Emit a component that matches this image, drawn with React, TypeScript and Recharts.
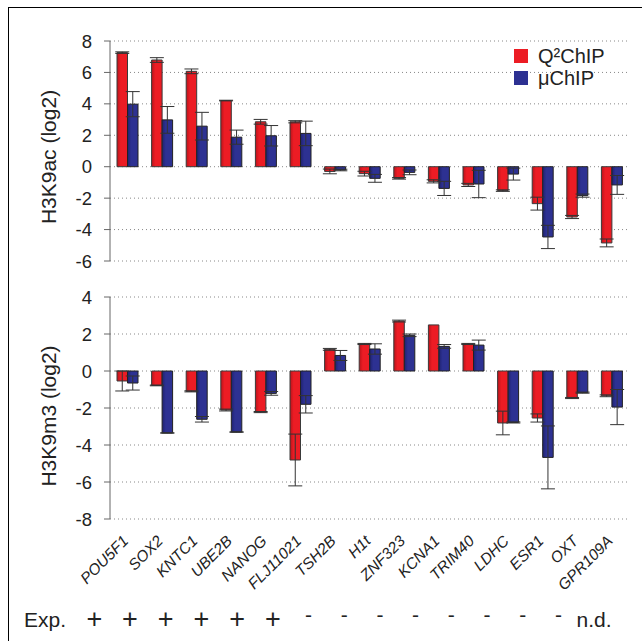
import { BarChart, Bar, XAxis, YAxis, CartesianGrid, ErrorBar, Legend, Label } from "recharts"

const genes = ["POU5F1", "SOX2", "KNTC1", "UBE2B", "NANOG", "FLJ11021", "TSH2B", "H1t", "ZNF323", "KCNA1", "TRIM40", "LDHC", "ESR1", "OXT", "GPR109A"]
const expression = ["+", "+", "+", "+", "+", "+", "-", "-", "-", "-", "-", "-", "-", "-", "n.d."]

// H3K9ac (log2)
const acQ2 = [7.26, 6.79, 6.07, 4.21, 2.86, 2.86, -0.3, -0.44, -0.74, -0.93, -1.16, -1.52, -2.35, -3.2, -4.85]
const acQ2Err = [0.05, 0.15, 0.15, 0.02, 0.15, 0.07, 0.15, 0.15, 0.05, 0.1, 0.1, 0.05, 0.41, 0.1, 0.25]
const acMu = [3.98, 2.98, 2.58, 1.88, 1.97, 2.12, -0.21, -0.74, -0.36, -1.38, -1.1, -0.47, -4.47, -1.84, -1.16]
const acMuErr = [0.8, 0.85, 0.88, 0.45, 0.65, 0.78, 0.05, 0.25, 0.15, 0.45, 0.87, 0.38, 0.74, 0.1, 0.6]

// H3K9m3 (log2)
const meQ2 = [-0.54, -0.78, -1.1, -2.11, -2.22, -4.81, 1.17, 1.46, 2.7, 2.49, 1.46, -2.81, -2.54, -1.46, -1.34]
const meQ2Err = [0.54, 0.02, 0.03, 0.05, 0.03, 1.4, 0.05, 0.03, 0.05, 0, 0.03, 0.64, 0.22, 0.03, 0.05]
const meMu = [-0.65, -3.35, -2.61, -3.3, -1.21, -1.8, 0.84, 1.19, 1.93, 1.33, 1.4, -2.78, -4.67, -1.17, -1.95]
const meMuErr = [0.38, 0.01, 0.15, 0.01, 0.1, 0.47, 0.27, 0.28, 0.07, 0.1, 0.27, 0.03, 1.7, 0.03, 0.95]

const acTicks = [-6, -4, -2, 0, 2, 4, 6, 8]
const meTicks = [-8, -6, -4, -2, 0, 2, 4]

const acData = genes.map((gene, i) => ({ gene, q2: acQ2[i], q2Err: acQ2Err[i], mu: acMu[i], muErr: acMuErr[i] }))
const meData = genes.map((gene, i) => ({ gene, q2: meQ2[i], q2Err: meQ2Err[i], mu: meMu[i], muErr: meMuErr[i] }))

const FONT = '"Liberation Sans", Arial, Helvetica, sans-serif'
const RED = "#ec1c24"
const BLUE = "#2d3192"
const AXIS = "#666"

const yLabel = (text: string, shift: number) => (props: any) => {
  const vb = props.viewBox
  const cx = 56
  const cy = vb.y + vb.height / 2 + shift
  return (
    <text x={cx} y={cy} transform={`rotate(-90, ${cx}, ${cy})`} textAnchor="middle" fontSize={21} fill="#222" fontFamily={FONT}>
      {text}
    </text>
  )
}

const GeneTick = (props: any) => {
  const { x, y, payload } = props
  const tx = x + 2
  const ty = y + 15
  return (
    <text x={tx} y={ty} transform={`rotate(-45, ${tx}, ${ty})`} textAnchor="end" fontSize={15.5} fontStyle="italic" fill="#222" fontFamily={FONT}>
      {payload.value}
    </text>
  )
}

const ExpTick = (props: any) => {
  const { x, y, index } = props
  const s = expression[index]
  const tx = x - 33 + index * 1.1
  if (s === "+") {
    return (
      <text x={tx} y={y + 16} textAnchor="middle" fontSize={27} fill="#222" fontFamily={FONT}>
        {s}
      </text>
    )
  }
  return (
    <text x={tx} y={y + 15 + (s === "-" ? -5 : 0)} textAnchor="middle" fontSize={21} fill="#222" fontFamily={FONT}>
      {s}
    </text>
  )
}

const ExpLabel = (props: any) => {
  const vb = props.viewBox
  return (
    <text x={24} y={vb.y + 23} fontSize={21} fill="#222" fontFamily={FONT}>
      Exp.
    </text>
  )
}

const LegendBox = () => (
  <div style={{ fontFamily: FONT, fontSize: 20, color: "#222", lineHeight: "22px" }}>
    <div style={{ display: "flex", alignItems: "center" }}>
      <span style={{ width: 14, height: 14, background: RED, display: "inline-block", marginRight: 10 }} />
      Q²ChIP
    </div>
    <div style={{ display: "flex", alignItems: "center" }}>
      <span style={{ width: 14, height: 14, background: BLUE, display: "inline-block", marginRight: 10 }} />
      μChIP
    </div>
  </div>
)

const Grads = ({ id }: { id: string }) => (
  <defs>
    <linearGradient id={`red${id}`} x1="0" y1="0" x2="1" y2="0">
      <stop offset="0%" stopColor="#b8141b" />
      <stop offset="35%" stopColor={RED} />
      <stop offset="100%" stopColor={RED} />
    </linearGradient>
    <linearGradient id={`blue${id}`} x1="0" y1="0" x2="1" y2="0">
      <stop offset="0%" stopColor="#1f2270" />
      <stop offset="35%" stopColor={BLUE} />
      <stop offset="100%" stopColor={BLUE} />
    </linearGradient>
  </defs>
)

export default function App() {
  return (
    <div style={{ position: "absolute", left: 0, top: 0, width: 642, height: 641, overflow: "hidden", background: "#fff" }}>
      <div style={{ position: "absolute", left: 8, top: 7, width: 700, height: 700, borderLeft: "1.5px solid #000", borderTop: "1.5px solid #000" }} />
      <div style={{ position: "absolute", left: 0, top: 0 }}>
        <BarChart width={642} height={285} data={acData} margin={{ top: 41, right: 13, left: 50, bottom: 24 }} barGap={0} barSize={10.5}>
          <Grads id="A" />
          <CartesianGrid vertical={false} stroke="#888" strokeDasharray="1 3" />
          <XAxis dataKey="gene" hide />
          <YAxis
            width={60}
            domain={[-6, 8]}
            ticks={acTicks}
            interval={0}
            stroke={AXIS}
            tickSize={6}
            tickMargin={12}
            tick={{ fontSize: 18.5, fill: "#222", fontFamily: FONT }}
          >
            <Label content={yLabel("H3K9ac (log2)", 6)} />
          </YAxis>
          <Legend layout="vertical" align="center" verticalAlign="middle" content={LegendBox} wrapperStyle={{ top: 45, left: 514, width: 120 }} />
          <Bar dataKey="q2" name="Q²ChIP" fill="url(#redA)" stroke="#3a3a3a" strokeWidth={1} isAnimationActive={false}>
            <ErrorBar dataKey="q2Err" width={7} stroke="#333" strokeWidth={1} isAnimationActive={false} />
          </Bar>
          <Bar dataKey="mu" name="μChIP" fill="url(#blueA)" stroke="#222" strokeWidth={1} isAnimationActive={false}>
            <ErrorBar dataKey="muErr" width={7} stroke="#333" strokeWidth={1} isAnimationActive={false} />
          </Bar>
        </BarChart>
      </div>
      <div style={{ position: "absolute", left: 0, top: 270 }}>
        <BarChart width={642} height={364} data={meData} margin={{ top: 27, right: 13, left: 50, bottom: 0 }} barGap={0} barSize={10.5}>
          <Grads id="B" />
          <CartesianGrid vertical={false} stroke="#888" strokeDasharray="1 3" />
          <XAxis dataKey="gene" height={85} axisLine={false} tickLine={false} interval={0} tick={<GeneTick />} />
          <XAxis dataKey="gene" xAxisId="exp" height={30} axisLine={false} tickLine={false} interval={0} tick={<ExpTick />}>
            <Label content={ExpLabel} />
          </XAxis>
          <YAxis
            width={60}
            domain={[-8, 4]}
            ticks={meTicks}
            interval={0}
            stroke={AXIS}
            tickSize={6}
            tickMargin={12}
            tick={{ fontSize: 18.5, fill: "#222", fontFamily: FONT }}
          >
            <Label content={yLabel("H3K9m3 (log2)", 8)} />
          </YAxis>
          <Bar dataKey="q2" fill="url(#redB)" stroke="#3a3a3a" strokeWidth={1} isAnimationActive={false}>
            <ErrorBar dataKey="q2Err" width={7} stroke="#333" strokeWidth={1} isAnimationActive={false} />
          </Bar>
          <Bar dataKey="mu" fill="url(#blueB)" stroke="#222" strokeWidth={1} isAnimationActive={false}>
            <ErrorBar dataKey="muErr" width={7} stroke="#333" strokeWidth={1} isAnimationActive={false} />
          </Bar>
        </BarChart>
      </div>
    </div>
  )
}
